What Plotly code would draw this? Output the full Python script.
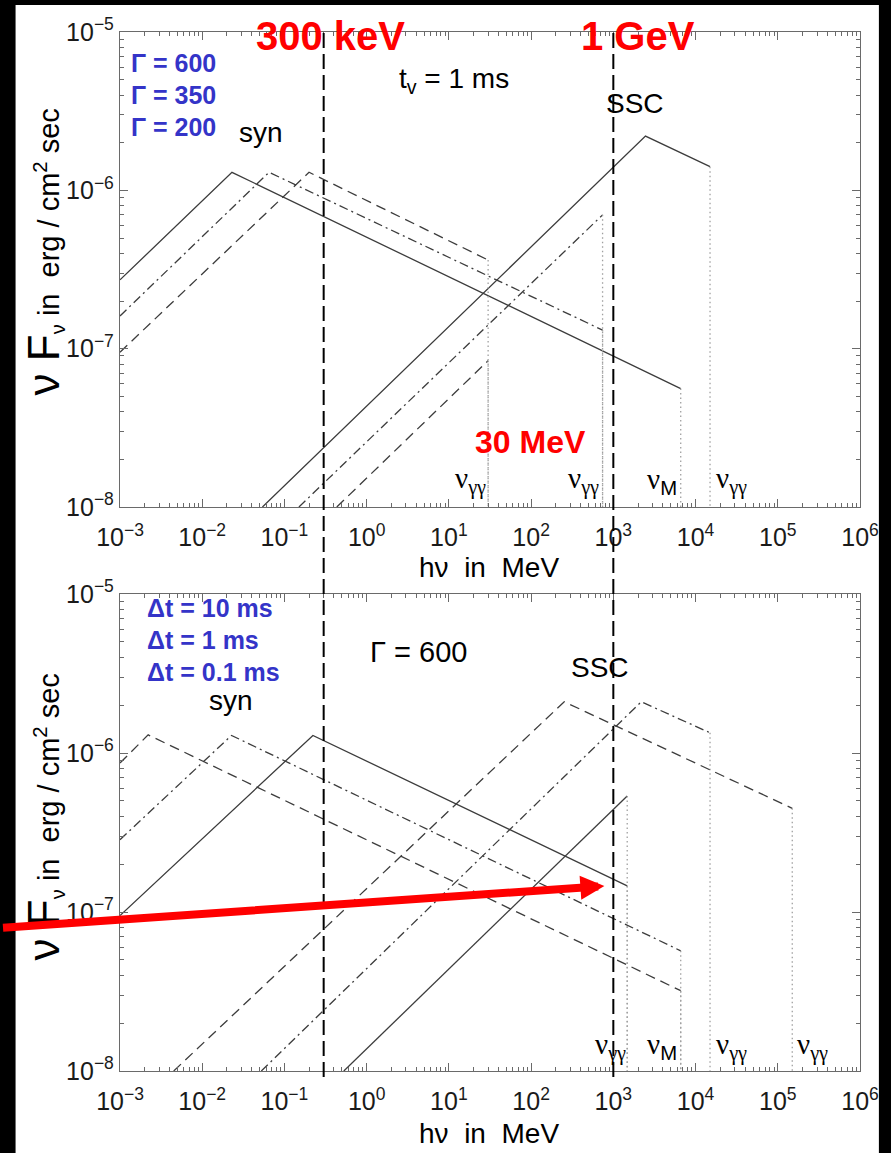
import math
import plotly.graph_objects as go

# ---------------------------------------------------------------
# Broken power-law spectra: photon energy (MeV) vs nuFnu (erg/cm^2/s)
# ---------------------------------------------------------------
# Top panel: t_v = 1 ms for three bulk Lorentz factors
g600_syn_e = [1e-3, 0.023, 6600]
g600_syn_f = [2.72e-7, 1.30e-6, 5.6e-8]
g600_ssc_e = [0.054, 2460, 15000]
g600_ssc_f = [1e-8, 2.2e-6, 1.41e-6]

g350_syn_e = [1e-3, 0.065, 740]
g350_syn_f = [1.61e-7, 1.30e-6, 1.31e-7]
g350_ssc_e = [0.15, 740]
g350_ssc_f = [1e-8, 7.0e-7]

g200_syn_e = [1e-3, 0.199, 30]
g200_syn_f = [9.5e-8, 1.30e-6, 3.63e-7]
g200_ssc_e = [0.433, 30]
g200_ssc_f = [1e-8, 8.4e-8]

# Bottom panel: Gamma = 600 for three variability times
dt10_syn_e = [1e-3, 0.222, 1475]
dt10_syn_f = [9.5e-8, 1.29e-6, 1.46e-7]
dt10_ssc_e = [0.527, 1475]
dt10_ssc_f = [1e-8, 5.37e-7]

dt1_syn_e = [1e-3, 0.0227, 6600]
dt1_syn_f = [2.85e-7, 1.29e-6, 5.7e-8]
dt1_ssc_e = [0.0523, 2185, 15000]
dt1_ssc_f = [1e-8, 2.1e-6, 1.34e-6]

dt01_syn_e = [1e-3, 0.0022, 6600]
dt01_syn_f = [8.65e-7, 1.30e-6, 3.2e-8]
dt01_ssc_e = [0.0045, 253, 150000]
dt01_ssc_f = [1e-8, 2.1e-6, 4.49e-7]

E_RANGE = [1e-3, 1e6]
F_RANGE = [1e-8, 1e-5]
x_tick_exps = [-3, -2, -1, 0, 1, 2, 3, 4, 5, 6]
y_tick_exps = [-8, -7, -6, -5]

# reference energies marked across both panels
marker_energies = [0.3, 1000]
marker_labels = ["300 keV", "1 GeV"]

gamma_labels = ["Γ = 600", "Γ = 350", "Γ = 200"]
dt_labels = ["Δt = 10 ms", "Δt = 1 ms", "Δt = 0.1 ms"]

# ---------------------------------------------------------------
W, H = 891, 1153
ML, MR, MT, MB = 120, 27, 32, 82
PW, PH = W - ML - MR, H - MT - MB


def px(x):
    return (x - ML) / PW


def py(y):
    return (H - MB - y) / PH


CURVE = "#3c3c3c"
DOTC = "#a0a0a0"
AXC = "#6a6a6a"
BLUE = "#3434c8"
RED = "#ff0000"
SANS = "Liberation Sans, Arial, sans-serif"
SERIF = "Liberation Serif, Times New Roman, serif"

styles = {
    "solid": dict(color=CURVE, width=1.3),
    "dashdot": dict(color=CURVE, width=1.3, dash="9px,4px,2px,4px"),
    "dash": dict(color=CURVE, width=1.3, dash="10px,6px"),
}

fig = go.Figure()


def add_curve(e, f, style, xa, ya):
    fig.add_trace(go.Scatter(x=e, y=f, mode="lines", line=styles[style],
                             xaxis=xa, yaxis=ya, hoverinfo="skip"))
    # dotted drop at the high-energy cut-off
    fig.add_trace(go.Scatter(x=[e[-1], e[-1]], y=[f[-1], F_RANGE[0]],
                             mode="lines",
                             line=dict(color=DOTC, width=1.3, dash="1.5px,3px"),
                             xaxis=xa, yaxis=ya, hoverinfo="skip"))


top = [
    (g600_syn_e, g600_syn_f, "solid"), (g600_ssc_e, g600_ssc_f, "solid"),
    (g350_syn_e, g350_syn_f, "dashdot"), (g350_ssc_e, g350_ssc_f, "dashdot"),
    (g200_syn_e, g200_syn_f, "dash"), (g200_ssc_e, g200_ssc_f, "dash"),
]
bottom = [
    (dt10_syn_e, dt10_syn_f, "solid"), (dt10_ssc_e, dt10_ssc_f, "solid"),
    (dt1_syn_e, dt1_syn_f, "dashdot"), (dt1_ssc_e, dt1_ssc_f, "dashdot"),
    (dt01_syn_e, dt01_syn_f, "dash"), (dt01_ssc_e, dt01_ssc_f, "dash"),
]
for e, f, s in top:
    add_curve(e, f, s, "x", "y")
for e, f, s in bottom:
    add_curve(e, f, s, "x2", "y2")


def pow_label(p):
    return "10<sup>" + ("−" if p < 0 else "") + str(abs(p)) + "</sup>"


def minor_vals(exps):
    return [m * 10 ** p for p in exps[:-1] for m in range(2, 10)]


tickfont = dict(family=SANS, size=25, color="#1a1a1a")


def log_axis(exps, **kw):
    d = dict(
        type="log",
        range=[math.log10(10 ** exps[0]), math.log10(10 ** exps[-1])],
        tickmode="array",
        tickvals=[10 ** p for p in exps],
        ticktext=[pow_label(p) for p in exps],
        ticks="inside", ticklen=8, tickwidth=1.2, tickcolor=AXC,
        minor=dict(tickmode="array", tickvals=minor_vals(exps),
                   ticks="inside", ticklen=4, tickwidth=1, tickcolor=AXC,
                   showgrid=False),
        showline=True, linecolor=AXC, linewidth=1.3, mirror="allticks",
        showgrid=False, zeroline=False, tickfont=tickfont,
    )
    d.update(kw)
    return d


top_bottom_px, bottom_top_px = 507, 594
fig.update_layout(
    width=W, height=H,
    margin=dict(l=ML, r=MR, t=MT, b=MB),
    paper_bgcolor="black", plot_bgcolor="white",
    showlegend=False,
    xaxis=log_axis(x_tick_exps, domain=[0, 1], anchor="y",
                   ticklabelstandoff=8),
    yaxis=log_axis(y_tick_exps, domain=[py(top_bottom_px), 1], anchor="x"),
    xaxis2=log_axis(x_tick_exps, domain=[0, 1], anchor="y2",
                    ticklabelstandoff=8),
    yaxis2=log_axis(y_tick_exps, domain=[0, py(bottom_top_px)], anchor="x2"),
)

shapes = [
    # white page behind the figure, black frame around it
    dict(type="rect", xref="paper", yref="paper", layer="below",
         x0=px(15), x1=px(883), y0=py(1170), y1=py(5),
         fillcolor="white", line=dict(width=0)),
]
for e in marker_energies:
    shapes.append(dict(type="line", xref="x", yref="paper", layer="above",
                       x0=e, x1=e, y0=py(1077), y1=py(32),
                       line=dict(color="black", width=2, dash="15px,6px")))
fig.update_layout(shapes=shapes)

anns = []


def ann(text, x, y, size, color="black", family=SANS, bold=False,
        xanchor="center", yanchor="middle", angle=0):
    anns.append(dict(
        text=text, x=px(x), y=py(y), xref="paper", yref="paper",
        xanchor=xanchor, yanchor=yanchor, showarrow=False, textangle=angle,
        font=dict(family=family, size=size, color=color,
                  weight="bold" if bold else "normal"),
    ))


# red energy markers
ann(marker_labels[0], 332, 36, 40, RED, bold=True)
ann(marker_labels[1], 641, 36, 40, RED, bold=True)
ann("30 MeV", 533, 442, 32, RED, bold=True)

# parameter key, top panel
for i, t in enumerate(gamma_labels):
    ann(t, 129, 63 + 32 * i, 25, BLUE, bold=True, xanchor="left")
# parameter key, bottom panel
for i, t in enumerate(dt_labels):
    ann(t, 145, 608 + 32 * i, 25, BLUE, bold=True, xanchor="left")

# component labels
ann("syn", 262, 133, 28)
ann("t<sub>v</sub> = 1 ms", 398, 80, 28, xanchor="left")
ann("SSC", 638, 104, 28)
ann("syn", 232, 700, 28)
ann("Γ = 600", 369, 652, 29, xanchor="left")
ann("SSC", 603, 667, 28)

# cut-off labels
nu_gg = "ν<sub>γγ</sub>"
nu_m = 'ν<sub><span style="font-family:Liberation Sans">M</span></sub>'
for x0, t in [(455, nu_gg), (568, nu_gg), (648, nu_m), (717, nu_gg)]:
    ann(t, x0, 481, 29, family=SERIF, xanchor="left")
for x0, t in [(596, nu_gg), (648, nu_m), (717, nu_gg), (799, nu_gg)]:
    ann(t, x0, 1046, 29, family=SERIF, xanchor="left")

# axis titles
nb = "\u00a0"
xtitle = f"hν{nb}{nb}in{nb}{nb}MeV"
ann(xtitle, 491, 567, 28)
ann(xtitle, 491, 1134, 28)
ytitle = (f'<span style="font-size:44px">ν{nb}F</span><sub>ν</sub>'
          f'{nb}in{nb}{nb}erg{nb}/{nb}cm<sup>2</sup>{nb}sec')
ann(ytitle, 44, 252, 29, angle=-90)
ann(ytitle, 44, 817, 29, angle=-90)

# red pointer arrow
tip_x, tip_y = 607, 886
tail_x, tail_y = 0, 928
anns.append(dict(
    x=px(tip_x), y=py(tip_y), xref="paper", yref="paper", text=" ",
    showarrow=True, arrowhead=2, arrowsize=0.6, arrowwidth=8, arrowcolor=RED,
    ax=tail_x - tip_x, ay=tail_y - tip_y, axref="pixel", ayref="pixel",
))

fig.update_layout(annotations=anns)

fig.write_html("out.html")
